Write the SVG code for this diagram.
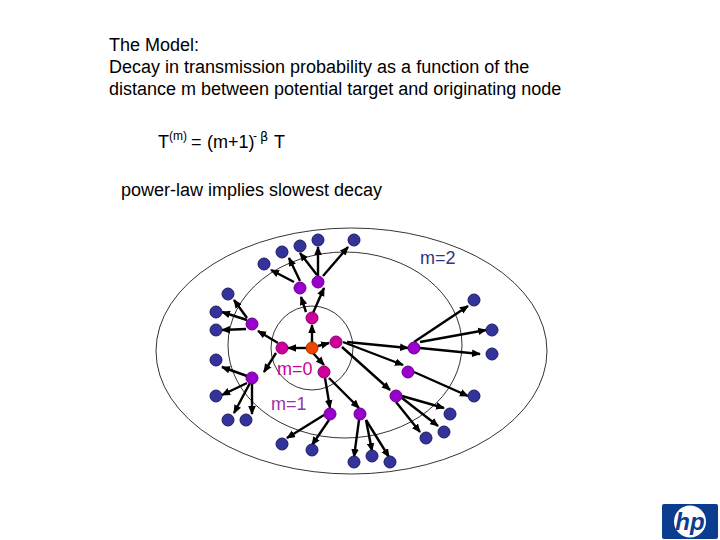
<svg xmlns="http://www.w3.org/2000/svg" width="720" height="540" viewBox="0 0 720 540">
<style>
text{font-family:"Liberation Sans",Arial,sans-serif;font-size:18px;fill:#000}
.ring{fill:none;stroke:#000;stroke-width:.8}
#connectors line{stroke:#000;stroke-width:2.4;marker-end:url(#a)}
circle.n{stroke-width:1}
.b{fill:#333399;stroke:#1c1c66}
.p{fill:#9900cc;stroke:#66008c}
.m{fill:#cc0099;stroke:#8c0070}
.o{fill:#ee4400;stroke:#a03000}
</style>
<defs><marker id="a" markerUnits="userSpaceOnUse" markerWidth="10" markerHeight="8" refX="8" refY="4" orient="auto"><path d="M0 0.200L9 4L0 7.800z" fill="#000"/></marker></defs>
<rect width="720" height="540" fill="#fff"/>
<text x="109" y="51">The Model:</text>
<text x="109" y="73">Decay in transmission probability as a function of the</text>
<text x="109" y="95">distance m between potential target and originating node</text>
<text x="158" y="148">T</text><text x="169" y="140" style="font-size:12px">(m)</text>
<text x="191" y="148">=</text><text x="207" y="148">(m+1)</text><text x="253" y="140" style="font-size:12px">-</text><text x="260" y="141" style="font-family:'DejaVu Sans',sans-serif;font-size:13px">β</text><text x="274" y="148">T</text>
<text x="121" y="196">power-law implies slowest decay</text>
<g id="rings">
<ellipse class="ring" cx="351.500" cy="351" rx="195.500" ry="123"/>
<ellipse class="ring" cx="345" cy="345" rx="117" ry="93"/>
<ellipse class="ring" cx="312" cy="348" rx="41" ry="42"/>
</g>
<g id="connectors">
<line x1="312" y1="348" x2="312" y2="325"/>
<line x1="312" y1="348" x2="288" y2="348"/>
<line x1="318" y1="346" x2="329" y2="343"/>
<line x1="306" y1="312" x2="301" y2="297"/>
<line x1="313" y1="313" x2="324" y2="288"/>
<line x1="294" y1="282" x2="271" y2="270"/>
<line x1="300" y1="281" x2="289" y2="258"/>
<line x1="317" y1="275" x2="300" y2="253"/>
<line x1="318" y1="276" x2="318" y2="247"/>
<line x1="323" y1="276" x2="348" y2="247"/>
<line x1="247" y1="318" x2="234" y2="300"/>
<line x1="247" y1="320" x2="222" y2="312"/>
<line x1="246" y1="329" x2="222" y2="330"/>
<line x1="278" y1="343" x2="258" y2="331"/>
<line x1="347" y1="342" x2="408" y2="348"/>
<line x1="343" y1="342" x2="403" y2="365"/>
<line x1="342" y1="347" x2="390" y2="390"/>
<line x1="414" y1="342" x2="468" y2="306"/>
<line x1="420" y1="342" x2="486" y2="330"/>
<line x1="420" y1="348" x2="480" y2="354"/>
<line x1="414" y1="372" x2="468" y2="396"/>
<line x1="402" y1="396" x2="444" y2="408"/>
<line x1="402" y1="398" x2="438" y2="426"/>
<line x1="396" y1="402" x2="420" y2="432"/>
<line x1="329" y1="378" x2="359" y2="408"/>
<line x1="325" y1="378" x2="330" y2="408"/>
<line x1="313" y1="353" x2="324" y2="365"/>
<line x1="276" y1="353" x2="264" y2="372"/>
<line x1="247" y1="376" x2="222" y2="367"/>
<line x1="247" y1="383" x2="222" y2="395"/>
<line x1="250" y1="383" x2="234" y2="413"/>
<line x1="252" y1="383" x2="252" y2="414"/>
<line x1="324" y1="415" x2="287" y2="438"/>
<line x1="329" y1="420" x2="312" y2="445"/>
<line x1="359" y1="420" x2="354" y2="457"/>
<line x1="366" y1="420" x2="372" y2="451"/>
<line x1="366" y1="420" x2="389" y2="457"/>
</g>
<g id="n0"><circle class="n o" cx="312" cy="348" r="6"/></g>
<g id="n1"><circle class="n m" cx="312" cy="318" r="6"/></g>
<g id="n2"><circle class="n m" cx="282" cy="348" r="6"/></g>
<g id="n3"><circle class="n m" cx="336" cy="342" r="6"/></g>
<g id="n4"><circle class="n m" cx="324" cy="372" r="6"/></g>
<g id="n5"><circle class="n p" cx="300" cy="288" r="6"/></g>
<g id="n6"><circle class="n p" cx="318" cy="282" r="6"/></g>
<g id="n7"><circle class="n p" cx="252" cy="324" r="6"/></g>
<g id="n8"><circle class="n p" cx="252" cy="378" r="6"/></g>
<g id="n9"><circle class="n p" cx="330" cy="414" r="6"/></g>
<g id="n10"><circle class="n p" cx="360" cy="414" r="6"/></g>
<g id="n11"><circle class="n p" cx="396" cy="396" r="6"/></g>
<g id="n12"><circle class="n p" cx="408" cy="372" r="6"/></g>
<g id="n13"><circle class="n p" cx="414" cy="348" r="6"/></g>
<g id="n14"><circle class="n b" cx="264" cy="264" r="6"/></g>
<g id="n15"><circle class="n b" cx="282" cy="252" r="6"/></g>
<g id="n16"><circle class="n b" cx="300" cy="246" r="6"/></g>
<g id="n17"><circle class="n b" cx="318" cy="240" r="6"/></g>
<g id="n18"><circle class="n b" cx="354" cy="240" r="6"/></g>
<g id="n19"><circle class="n b" cx="228" cy="294" r="6"/></g>
<g id="n20"><circle class="n b" cx="216" cy="312" r="6"/></g>
<g id="n21"><circle class="n b" cx="216" cy="330" r="6"/></g>
<g id="n22"><circle class="n b" cx="216" cy="360" r="6"/></g>
<g id="n23"><circle class="n b" cx="216" cy="396" r="6"/></g>
<g id="n24"><circle class="n b" cx="228" cy="420" r="6"/></g>
<g id="n25"><circle class="n b" cx="246" cy="420" r="6"/></g>
<g id="n26"><circle class="n b" cx="282" cy="444" r="6"/></g>
<g id="n27"><circle class="n b" cx="312" cy="450" r="6"/></g>
<g id="n28"><circle class="n b" cx="354" cy="462" r="6"/></g>
<g id="n29"><circle class="n b" cx="372" cy="456" r="6"/></g>
<g id="n30"><circle class="n b" cx="390" cy="462" r="6"/></g>
<g id="n31"><circle class="n b" cx="426" cy="438" r="6"/></g>
<g id="n32"><circle class="n b" cx="444" cy="432" r="6"/></g>
<g id="n33"><circle class="n b" cx="450" cy="414" r="6"/></g>
<g id="n34"><circle class="n b" cx="474" cy="396" r="6"/></g>
<g id="n35"><circle class="n b" cx="492" cy="354" r="6"/></g>
<g id="n36"><circle class="n b" cx="492" cy="330" r="6"/></g>
<g id="n37"><circle class="n b" cx="474" cy="300" r="6"/></g>
<text x="420" y="264" style="fill:#333380">m=2</text>
<text x="277" y="375" style="fill:#cc0099">m=0</text>
<text x="271" y="410" style="fill:#9933aa">m=1</text>
<g id="logo">
<rect x="662" y="504" width="56" height="35" rx="2" fill="#0a3d8f"/>
<circle cx="690" cy="521.500" r="16" fill="#fff"/>
<text x="690" y="530" text-anchor="middle" style="font-size:24px;font-weight:bold;font-style:italic;fill:#0a3d8f">hp</text>
</g>
</svg>
